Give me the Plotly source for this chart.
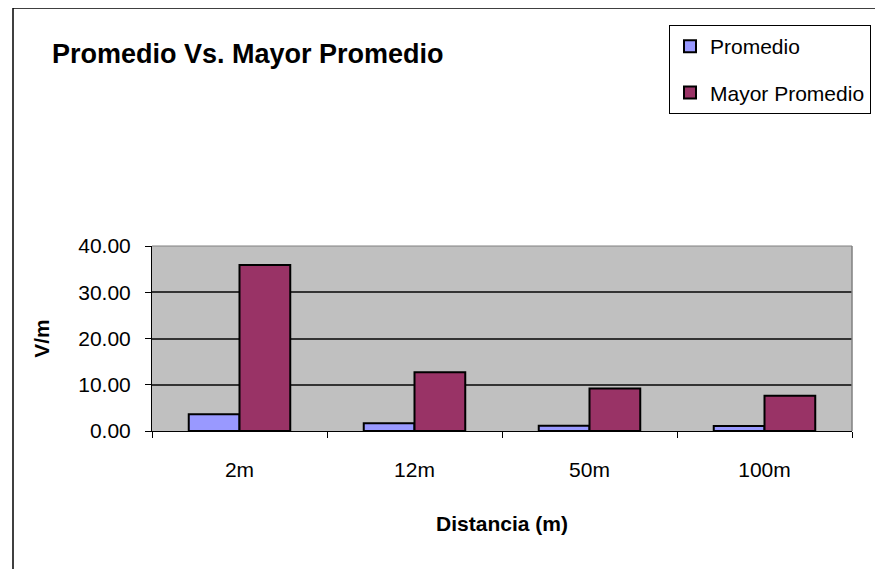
import plotly.graph_objects as go

categories = ["2m", "12m", "50m", "100m"]
promedio = [3.6, 1.65, 1.15, 1.1]
mayor_promedio = [35.9, 12.7, 9.2, 7.6]
y_ticks = [0, 10, 20, 30, 40]

FONT = "Liberation Sans, Arial, sans-serif"

# page is offset by the browser's default body margin
OFF = 8
PAGE_W, PAGE_H = 883, 569
W, H = PAGE_W - OFF, PAGE_H - OFF
# plot area in page pixels
PX0, PX1, PY0, PY1 = 152, 852, 246, 431
L, R, T, B = PX0 - OFF, PAGE_W - PX1, PY0 - OFF, PAGE_H - PY1
pw, ph = PX1 - PX0, PY1 - PY0


def px(x):
    return (x - PX0) / pw


def py(y):
    return (PY1 - y) / ph


fig = go.Figure()
fig.add_trace(go.Bar(
    x=categories, y=promedio, name="Promedio",
    marker=dict(color="#9999FF", line=dict(color="black", width=2)),
    legendgroup="a",
))
fig.add_trace(go.Bar(
    x=categories, y=mayor_promedio, name="Mayor Promedio",
    marker=dict(color="#993366", line=dict(color="black", width=2)),
    legendgroup="b",
))

fig.update_layout(
    width=W, height=H,
    margin=dict(l=L, r=R, t=T, b=B, autoexpand=False),
    paper_bgcolor="white",
    plot_bgcolor="#C0C0C0",
    barmode="group",
    bargap=0.42,
    bargroupgap=0,
    font=dict(family=FONT, color="black", size=21),
    showlegend=True,
    legend=dict(
        x=px(669), y=py(25), xanchor="left", yanchor="top",
        bgcolor="white", bordercolor="black", borderwidth=1,
        font=dict(size=21, family=FONT),
        traceorder="grouped", tracegroupgap=16,
        itemwidth=30,
    ),
    xaxis=dict(
        showgrid=False,
        showline=True, linecolor="black", linewidth=1,
        ticks="outside", ticklen=6, tickcolor="black",
        tickson="boundaries",
        ticklabelstandoff=20,
        tickfont=dict(size=21),
        title=dict(text="<b>Distancia (m)</b>", font=dict(size=21), standoff=36),
    ),
    yaxis=dict(
        range=[0, 40],
        tickvals=y_ticks,
        tickformat=".2f",
        showgrid=True, gridcolor="#333333", gridwidth=1.5,
        showline=True, linecolor="black", linewidth=1,
        ticks="outside", ticklen=6, tickcolor="black",
        ticklabelstandoff=10,
        tickfont=dict(size=21),
        zeroline=False,
        title=dict(text="<b>V/m</b>", font=dict(size=21), standoff=22),
    ),
    annotations=[
        dict(
            text="<b>Promedio Vs. Mayor Promedio</b>",
            xref="paper", yref="paper", x=px(50), y=py(54),
            xanchor="left", yanchor="middle", showarrow=False,
            font=dict(size=27, family=FONT),
        ),
    ],
    shapes=[
        # outer chart-area border (cropped on right and bottom)
        dict(type="line", xref="paper", yref="paper", x0=px(13), x1=px(13), y0=py(8), y1=py(600),
             line=dict(color="black", width=1.5)),
        dict(type="line", xref="paper", yref="paper", x0=px(13), x1=px(900), y0=py(8), y1=py(8),
             line=dict(color="black", width=1.5)),
        # plot area right/top border
        dict(type="line", xref="paper", yref="paper", x0=1, x1=1, y0=0, y1=1,
             line=dict(color="#808080", width=1.5)),
        dict(type="line", xref="paper", yref="paper", x0=0, x1=1, y0=1, y1=1,
             line=dict(color="#808080", width=1)),
    ],
)

fig.write_html("out.html")
